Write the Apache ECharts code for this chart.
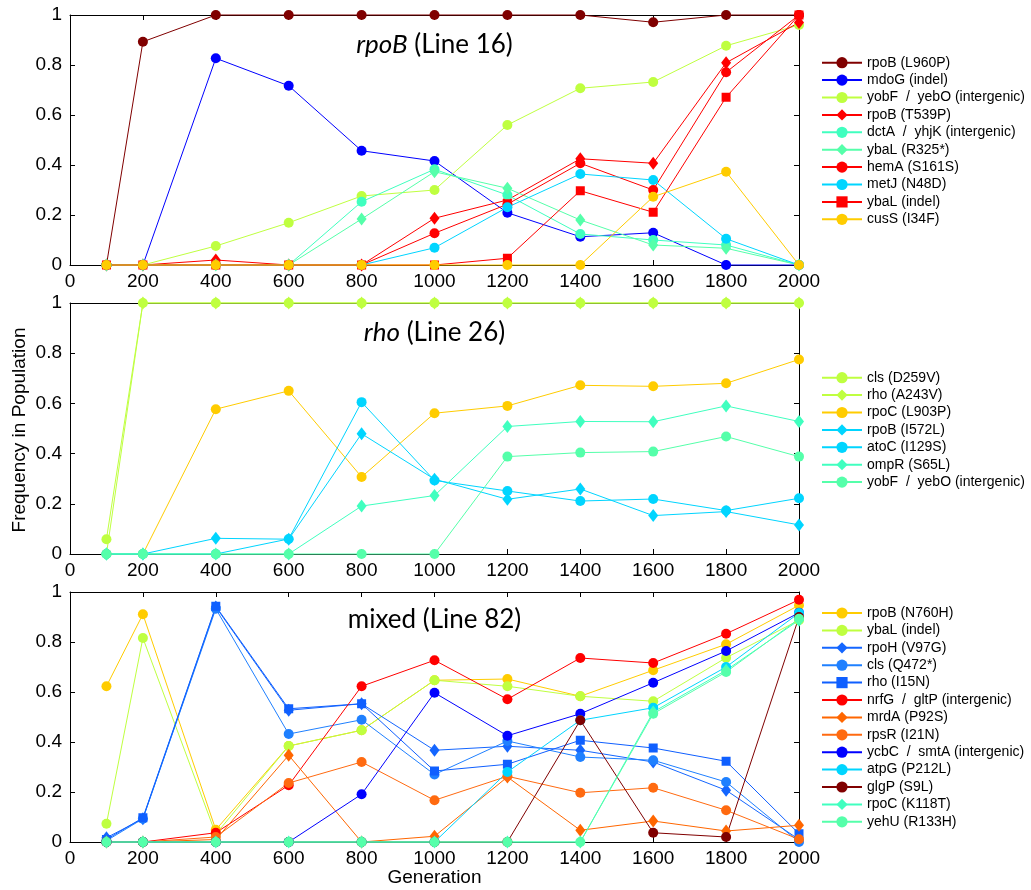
<!DOCTYPE html>
<html><head><meta charset="utf-8">
<script src="https://cdn.jsdelivr.net/npm/echarts@6/dist/echarts.min.js"></script>
<style>html,body{margin:0;padding:0;background:#fff}#c{width:1031px;height:890px}</style>
</head><body><div id="c"></div>
<script>
// ---- data ----
const generations = [100, 200, 400, 600, 800, 1000, 1200, 1400, 1600, 1800, 2000];
const xTicks = [0, 200, 400, 600, 800, 1000, 1200, 1400, 1600, 1800, 2000];
const yTicks = [0, 0.2, 0.4, 0.6, 0.8, 1];

// Panel 1: rpoB (Line 16)
const p1Names = ['rpoB (L960P)', 'mdoG (indel)', 'yobF  /  yebO (intergenic)', 'rpoB (T539P)',
  'dctA  /  yhjK (intergenic)', 'ybaL (R325*)', 'hemA (S161S)', 'metJ (N48D)', 'ybaL (indel)', 'cusS (I34F)'];
const p1_rpoB_L960P = [0, 0.893, 1, 1, 1, 1, 1, 1, 0.971, 1, 1];
const p1_mdoG = [0, 0, 0.827, 0.717, 0.457, 0.416, 0.209, 0.113, 0.129, 0, 0];
const p1_yobF = [0, 0, 0.076, 0.169, 0.276, 0.300, 0.560, 0.707, 0.732, 0.877, 0.960];
const p1_rpoB_T539P = [0, 0, 0.02, 0, 0, 0.187, 0.26, 0.425, 0.407, 0.809, 0.97];
const p1_dctA = [0, 0, 0, 0, 0.253, 0.383, 0.28, 0.124, 0.1, 0.08, 0];
const p1_ybaL_R325 = [0, 0, 0, 0, 0.184, 0.373, 0.307, 0.18, 0.08, 0.067, 0];
const p1_hemA = [0, 0, 0, 0, 0, 0.127, 0.243, 0.407, 0.3, 0.771, 1.0];
const p1_metJ = [0, 0, 0, 0, 0, 0.069, 0.231, 0.364, 0.34, 0.105, 0];
const p1_ybaL_indel = [0, 0, 0, 0, 0, 0, 0.027, 0.297, 0.211, 0.671, 1.0];
const p1_cusS = [0, 0, 0, 0, 0, 0, 0, 0, 0.273, 0.373, 0];

// Panel 2: rho (Line 26)
const p2Names = ['cls (D259V)', 'rho (A243V)', 'rpoC (L903P)', 'rpoB (I572L)', 'atoC (I129S)',
  'ompR (S65L)', 'yobF  /  yebO (intergenic)'];
const p2_cls = [0.059, 1, 1, 1, 1, 1, 1, 1, 1, 1, 1];
const p2_rho = [0, 1, 1, 1, 1, 1, 1, 1, 1, 1, 1];
const p2_rpoC = [0, 0, 0.577, 0.65, 0.307, 0.561, 0.59, 0.672, 0.668, 0.68, 0.775];
const p2_rpoB = [0, 0, 0.0625, 0.059, 0.479, 0.298, 0.218, 0.259, 0.153, 0.169, 0.116];
const p2_atoC = [0, 0, 0, 0.06, 0.605, 0.293, 0.251, 0.211, 0.219, 0.173, 0.222];
const p2_ompR = [0, 0, 0, 0, 0.191, 0.233, 0.508, 0.528, 0.527, 0.59, 0.528];
const p2_yobF = [0, 0, 0, 0, 0, 0, 0.388, 0.404, 0.408, 0.468, 0.388];

// Panel 3: mixed (Line 82)
const p3Names = ['rpoB (N760H)', 'ybaL (indel)', 'rpoH (V97G)', 'cls (Q472*)', 'rho (I15N)',
  'nrfG  /  gltP (intergenic)', 'mrdA (P92S)', 'rpsR (I21N)', 'ycbC  /  smtA (intergenic)',
  'atpG (P212L)', 'glgP (S9L)', 'rpoC (K118T)', 'yehU (R133H)'];
const p3_rpoB_N760H = [0.623, 0.911, 0.049, 0.384, 0.447, 0.647, 0.652, 0.583, 0.687, 0.791, 0.947];
const p3_ybaL = [0.073, 0.816, 0.031, 0.384, 0.447, 0.647, 0.623, 0.583, 0.563, 0.737, 0.887];
const p3_rpoH = [0.017, 0.093, 0.94, 0.527, 0.553, 0.367, 0.383, 0.367, 0.32, 0.207, 0.01];
const p3_cls = [0.005, 0.093, 0.933, 0.432, 0.489, 0.27, 0.404, 0.34, 0.327, 0.24, 0];
const p3_rho = [0.01, 0.097, 0.943, 0.533, 0.553, 0.284, 0.311, 0.407, 0.376, 0.323, 0.033];
const p3_nrfG = [0, 0, 0.037, 0.227, 0.623, 0.727, 0.571, 0.736, 0.716, 0.833, 0.969];
const p3_mrdA = [0, 0, 0.01, 0.347, 0, 0.023, 0.26, 0.047, 0.084, 0.044, 0.067];
const p3_rpsR = [0, 0, 0.02, 0.236, 0.32, 0.167, 0.263, 0.197, 0.217, 0.127, 0.011];
const p3_ycbC = [0, 0, 0, 0, 0.191, 0.597, 0.425, 0.513, 0.637, 0.764, 0.917];
const p3_atpG = [0, 0, 0, 0, 0, 0, 0.28, 0.487, 0.537, 0.7, 0.916];
const p3_glgP = [0, 0, 0, 0, 0, 0, 0, 0.487, 0.037, 0.02, 0.9];
const p3_rpoC = [0, 0, 0, 0, 0, 0, 0, 0, 0.52, 0.687, 0.887];
const p3_yehU = [0, 0, 0, 0, 0, 0, 0, 0, 0.513, 0.68, 0.893];

// ---- styles (kept separate from data) ----
const C = {
  dred: '#800000', blue: '#0000ff', yg: '#bfff40', red: '#ff0000', aqua: '#40ffbf', aqua2: '#55ffaa',
  cyan: '#00d5ff', gold: '#ffcc00', orange: '#ff6600', orange2: '#ff6a10',
  mb1: '#1466ff', mb2: '#1f80ff', mb3: '#0f5fff'
};
const panels = [
  { names: p1Names, values: [p1_rpoB_L960P, p1_mdoG, p1_yobF, p1_rpoB_T539P, p1_dctA, p1_ybaL_R325, p1_hemA, p1_metJ, p1_ybaL_indel, p1_cusS],
    colors: [C.dred, C.blue, C.yg, C.red, C.aqua, C.aqua2, C.red, C.cyan, C.red, C.gold],
    symbols: ['circle', 'circle', 'circle', 'diamond', 'circle', 'diamond', 'circle', 'circle', 'rect', 'circle'] },
  { names: p2Names, values: [p2_cls, p2_rho, p2_rpoC, p2_rpoB, p2_atoC, p2_ompR, p2_yobF],
    colors: [C.yg, C.yg, C.gold, C.cyan, C.cyan, C.aqua, C.aqua2],
    symbols: ['circle', 'diamond', 'circle', 'diamond', 'circle', 'diamond', 'circle'] },
  { names: p3Names, values: [p3_rpoB_N760H, p3_ybaL, p3_rpoH, p3_cls, p3_rho, p3_nrfG, p3_mrdA, p3_rpsR, p3_ycbC, p3_atpG, p3_glgP, p3_rpoC, p3_yehU],
    colors: [C.gold, C.yg, C.mb1, C.mb2, C.mb3, C.red, C.orange, C.orange2, C.blue, C.cyan, C.dred, C.aqua, C.aqua2],
    symbols: ['circle', 'circle', 'diamond', 'circle', 'rect', 'circle', 'diamond', 'circle', 'circle', 'circle', 'circle', 'diamond', 'circle'] }
];
const gridBoxes = [
  { left: 70, width: 729, top: 15, height: 250 },
  { left: 70, width: 729, top: 303, height: 251 },
  { left: 70, width: 729, top: 592, height: 250 }
];
const legendTops = [55.7, 370.7, 606];
const FONT = "'Liberation Sans', Arial, sans-serif";

const xAxes = [], yAxes = [], series = [], legends = [];
gridBoxes.forEach((g, i) => {
  const common = {
    type: 'value', gridIndex: i, splitLine: { show: false },
    axisLine: { show: true, onZero: false, lineStyle: { color: '#000', width: 1 } },
    axisTick: { show: true, inside: true, length: 5, lineStyle: { color: '#000', width: 1 } }
  };
  xAxes.push(Object.assign({}, common, {
    position: 'bottom', min: xTicks[0], max: xTicks[xTicks.length - 1], interval: xTicks[1] - xTicks[0],
    axisLabel: { show: true, fontSize: 19, fontFamily: FONT, color: '#000', margin: 7,
      formatter: v => String(Math.round(v)) }
  }));
  xAxes.push(Object.assign({}, common, {
    position: 'top', min: xTicks[0], max: xTicks[xTicks.length - 1], interval: xTicks[1] - xTicks[0],
    axisLabel: { show: false }
  }));
  yAxes.push(Object.assign({}, common, {
    position: 'left', min: yTicks[0], max: yTicks[yTicks.length - 1], interval: yTicks[1] - yTicks[0],
    axisLabel: { show: true, fontSize: 19, fontFamily: FONT, color: '#000', margin: 8,
      formatter: v => String(+(+v).toFixed(1)) }
  }));
  yAxes.push(Object.assign({}, common, {
    position: 'right', min: yTicks[0], max: yTicks[yTicks.length - 1], interval: yTicks[1] - yTicks[0],
    axisLabel: { show: false }
  }));
  const p = panels[i];
  const suffix = ' '.repeat(i);
  const legendNames = [];
  p.names.forEach((name, k) => {
    const nm = name + suffix;
    legendNames.push(nm);
    const sym = p.symbols[k];
    series.push({
      type: 'line', name: nm, xAxisIndex: 2 * i, yAxisIndex: 2 * i,
      data: generations.map((gen, j) => [gen, p.values[k][j]]),
      symbol: sym, symbolSize: sym === 'diamond' ? [10, 13] : (sym === 'rect' ? 9 : 10),
      showSymbol: true, showAllSymbol: true, clip: false,
      lineStyle: { color: p.colors[k], width: 1 },
      itemStyle: { color: p.colors[k] },
      emphasis: { disabled: true }, animation: false
    });
  });
  legends.push({
    orient: 'vertical', left: 821, top: legendTops[i], padding: 0,
    itemWidth: 40, itemHeight: 14, itemGap: 3.4, selectedMode: false,
    textStyle: { fontSize: 14, fontFamily: FONT, color: '#000', lineHeight: 14 },
    data: legendNames
  });
});

const titleStyle = { fontSize: 26, fontFamily: 'Lato, sans-serif', fill: '#000' };
function titleText(x, y, text, rich) {
  return { type: 'text', x: x, y: y, z: 100, style: Object.assign({ text: text, align: 'center', verticalAlign: 'middle',
    rich: rich }, titleStyle) };
}
const italicRich = { i: { fontStyle: 'italic', fontSize: 26, fontFamily: 'Lato, sans-serif', fill: '#000' },
  n: { fontSize: 26, fontFamily: 'Lato, sans-serif', fill: '#000' } };

const option = {
  animation: false,
  backgroundColor: '#fff',
  grid: gridBoxes.map(g => Object.assign({ containLabel: false }, g)),
  xAxis: xAxes, yAxis: yAxes, series: series, legend: legends,
  graphic: [
    titleText(434.5, 45, '{i|rpoB}{n| (Line 16)}', italicRich),
    titleText(434.5, 333, '{i|rho}{n| (Line 26)}', italicRich),
    titleText(434.5, 620, '{n|mixed (Line 82)}', italicRich),
    { type: 'text', x: 20, y: 430, rotation: Math.PI / 2,
      style: { text: 'Frequency in Population', fontSize: 19, fontFamily: FONT, fill: '#000', align: 'center', verticalAlign: 'middle' } },
    { type: 'text', x: 434.5, y: 878,
      style: { text: 'Generation', fontSize: 19, fontFamily: FONT, fill: '#000', align: 'center', verticalAlign: 'middle' } }
  ]
};
const chart = echarts.init(document.getElementById('c'), null, { renderer: 'canvas' });
chart.setOption(option);
</script>
</body></html>
